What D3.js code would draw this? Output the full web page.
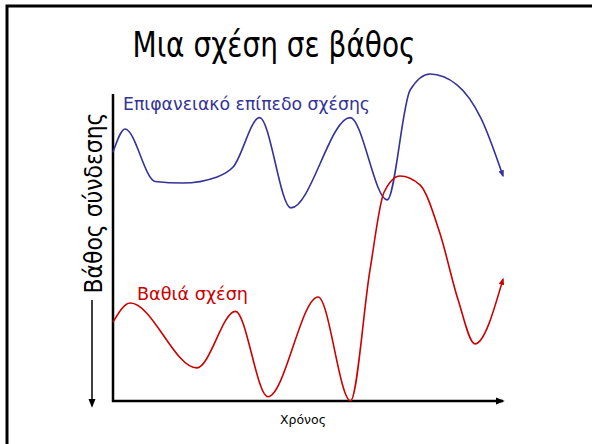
<!DOCTYPE html>
<html><head><meta charset="utf-8">
<script src="https://cdn.jsdelivr.net/npm/d3@7/dist/d3.min.js"></script>
<style>html,body{margin:0;padding:0;background:#fff;}svg{display:block;}</style>
</head><body>
<script>
// Time (0-100) and depth-of-connection (0-100) values
const surfaceTime  = [0, 3.1, 10.8, 17.9, 26.7, 30.8, 37.6, 45.6, 60.8, 70.3, 76.2, 81.3, 88.2, 94.4, 100];
const surfaceDepth = [81.0, 88.6, 71.5, 71.0, 73.0, 76.2, 92.3, 62.9, 92.3, 65.5, 101.3, 106.5, 103.0, 92.0, 73.3];

const deepTime  = [0, 4.4, 21.5, 31.4, 39.7, 52.6, 60.9, 65.9, 69.5, 73.6, 78.7, 83.8, 88.5, 92.8, 100];
const deepDepth = [25.7, 31.9, 10.8, 29.2, 1.4, 33.9, 0.1, 42.7, 68.0, 73.3, 70.4, 54.7, 32.9, 18.6, 39.7];

const titleText = "Μια σχέση σε βάθος";
const surfaceLabel = "Επιφανειακό επίπεδο σχέσης";
const deepLabel = "Βαθιά σχέση";
const xLabel = "Χρόνος";
const yLabel = "Βάθος σύνδεσης";

const W = 592, H = 444;
const svg = d3.select("body").append("svg").attr("width", W).attr("height", H);
const defs = svg.append("defs");
function marker(id, color, size) {
  defs.append("marker").attr("id", id).attr("viewBox", "0 0 10 10")
    .attr("refX", 8).attr("refY", 5).attr("markerUnits", "userSpaceOnUse")
    .attr("markerWidth", size).attr("markerHeight", size).attr("orient", "auto")
    .append("path").attr("d", "M0,1 L10,5 L0,9 Z").attr("fill", color);
}
marker("arrBlack", "#000", 9);
marker("arrBlue", "#333399", 7);
marker("arrRed", "#cc0000", 7);

// frame
svg.append("rect").attr("x", 7).attr("y", 6).attr("width", 620).attr("height", 470)
  .attr("fill", "none").attr("stroke", "#000").attr("stroke-width", 3);

const x = d3.scaleLinear().domain([0, 100]).range([113, 503]);
const y = d3.scaleLinear().domain([0, 100]).range([401, 94]);

// axes
svg.append("line").attr("x1", x(0)).attr("x2", x(0)).attr("y1", y(100)).attr("y2", y(0) + 1)
  .attr("stroke", "#000").attr("stroke-width", 2.5);
svg.append("line").attr("x1", x(0) - 1).attr("x2", x(100)).attr("y1", y(0)).attr("y2", y(0))
  .attr("stroke", "#000").attr("stroke-width", 2.5).attr("marker-end", "url(#arrBlack)");

// down arrow beside y label
svg.append("line").attr("x1", 92).attr("x2", 92).attr("y1", 300).attr("y2", 406)
  .attr("stroke", "#000").attr("stroke-width", 1.5).attr("marker-end", "url(#arrBlack)");

const line = d3.line().x(d => x(d[0])).y(d => y(d[1])).curve(d3.curveMonotoneX);

svg.append("path").datum(d3.zip(surfaceTime, surfaceDepth)).attr("d", line)
  .attr("fill", "none").attr("stroke", "#333399").attr("stroke-width", 1.6)
  .attr("marker-end", "url(#arrBlue)");
svg.append("path").datum(d3.zip(deepTime, deepDepth)).attr("d", line)
  .attr("fill", "none").attr("stroke", "#cc0000").attr("stroke-width", 1.6)
  .attr("marker-end", "url(#arrRed)");

const FONT = "DejaVu Sans, Verdana, sans-serif";
function fit(sel, width) {
  sel.attr("textLength", width).attr("lengthAdjust", "spacingAndGlyphs");
}

fit(svg.append("text").attr("x", 274).attr("y", 57).attr("text-anchor", "middle")
  .attr("font-family", FONT).attr("font-size", 36).attr("fill", "#000").text(titleText), 283);

fit(svg.append("text").attr("x", 123).attr("y", 110)
  .attr("font-family", FONT).attr("font-size", 17).attr("fill", "#333399").text(surfaceLabel), 247);

fit(svg.append("text").attr("x", 137).attr("y", 300)
  .attr("font-family", FONT).attr("font-size", 18).attr("fill", "#cc0000").text(deepLabel), 111);

fit(svg.append("text").attr("x", 303).attr("y", 424).attr("text-anchor", "middle")
  .attr("font-family", FONT).attr("font-size", 12.5).attr("fill", "#000").text(xLabel), 46);

fit(svg.append("text").attr("transform", "translate(102,203) rotate(-90)")
  .attr("text-anchor", "middle")
  .attr("font-family", FONT).attr("font-size", 25).attr("fill", "#000").text(yLabel), 181);
</script>
</body></html>
